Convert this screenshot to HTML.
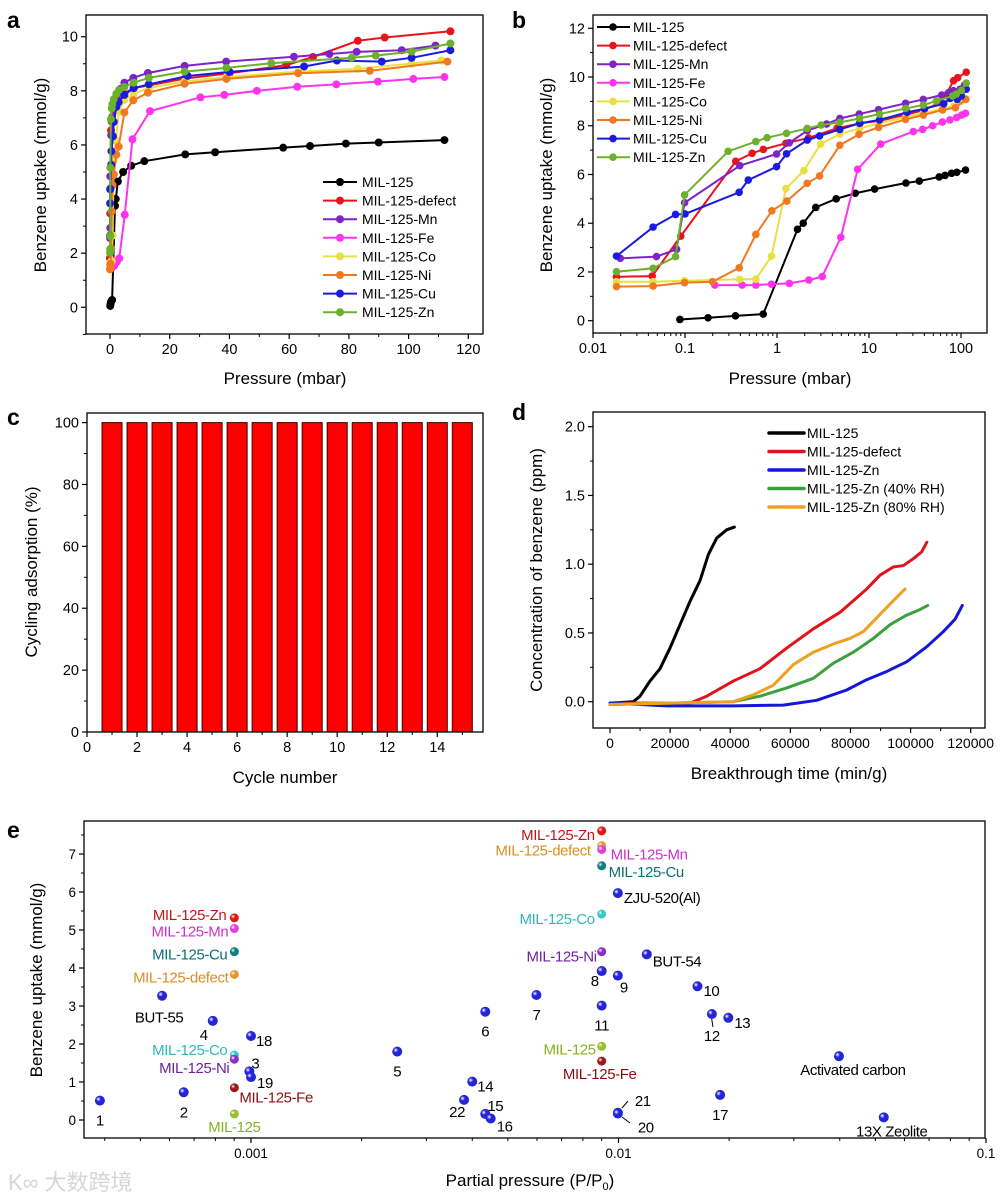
<!DOCTYPE html>
<html><head><meta charset="utf-8"><style>
html,body{margin:0;padding:0;background:#fff;}
svg{display:block;font-family:"Liberation Sans",Arial,sans-serif;}
</style></head><body>
<svg id="fig" width="1001" height="1197" viewBox="0 0 1001 1197" xmlns="http://www.w3.org/2000/svg">
<defs id="defs"></defs>
</svg>
<script>
// ---------- Panel a/b isotherm data (pressure mbar, uptake mmol/g) ----------
const isoNames = ["MIL-125","MIL-125-defect","MIL-125-Mn","MIL-125-Fe","MIL-125-Co","MIL-125-Ni","MIL-125-Cu","MIL-125-Zn"];
const isoColors = ["#000000","#e8141c","#7f22c8","#ff33ee","#e8e040","#f07820","#1a1ae0","#6cb02c"];
const pMil125 = [0.088,0.178,0.354,0.708,1.67,1.93,2.64,4.4,7.1,11.5,25.2,35.2,58,67,79,90,112];
const uMil125 = [0.05,0.12,0.2,0.27,3.75,4.0,4.65,5.0,5.23,5.4,5.65,5.73,5.9,5.96,6.05,6.09,6.18];
const pDefect = [0.018,0.044,0.09,0.356,0.537,0.71,1.25,2.2,4.5,8,13,25,40,59,68,83,92,114];
const uDefect = [1.8,1.83,3.47,6.54,6.87,7.03,7.28,7.5,7.9,8.1,8.2,8.45,8.65,8.95,9.25,9.85,9.97,10.2];
const pMn = [0.0198,0.049,0.081,0.099,0.394,0.99,1.36,2.13,3.46,4.82,7.83,12.7,25,38.9,61.6,73.5,82.6,97.7,109];
const uMn = [2.56,2.63,2.93,4.84,6.36,6.84,7.3,7.8,8.07,8.3,8.48,8.66,8.92,9.08,9.26,9.36,9.44,9.5,9.67];
const pFe = [0.211,0.418,0.589,0.871,1.36,2.22,3.1,4.94,7.52,13.4,30.3,38.3,49.2,62.7,75.8,89.7,101.6,112];
const uFe = [1.46,1.46,1.46,1.5,1.53,1.67,1.81,3.42,6.21,7.25,7.76,7.85,8.0,8.15,8.24,8.34,8.44,8.51];
const pCo = [0.018,0.045,0.099,0.394,0.589,0.871,1.25,1.96,2.98,4.82,7.9,13,25,39,63,83,101,111];
const uCo = [1.6,1.6,1.64,1.7,1.7,2.65,5.42,6.16,7.25,7.66,7.89,8.1,8.35,8.51,8.71,8.81,9.01,9.12];
const pNi = [0.018,0.045,0.099,0.199,0.388,0.589,0.88,1.28,2.13,2.9,4.82,7.78,12.7,25,39,63,87,113];
const uNi = [1.4,1.42,1.56,1.6,2.17,3.54,4.51,4.91,5.64,5.94,7.2,7.65,7.93,8.26,8.44,8.65,8.74,9.08];
const pCu = [0.018,0.045,0.079,0.1,0.388,0.487,0.99,1.27,2.13,2.9,4.82,7.9,13,26,40,65,76,91,101,114];
const uCu = [2.65,3.84,4.36,4.38,5.27,5.77,6.32,6.85,7.41,7.58,7.85,8.1,8.24,8.55,8.7,8.9,9.12,9.08,9.22,9.5];
const pZn = [0.018,0.045,0.079,0.099,0.295,0.589,0.78,1.27,2.13,3.02,4.82,7.9,13,25,39,54,81,89,101,114];
const uZn = [2.01,2.15,2.63,5.16,6.95,7.35,7.51,7.69,7.89,8.03,8.14,8.3,8.48,8.71,8.85,9.02,9.22,9.3,9.45,9.75];
const isoP = [pMil125,pDefect,pMn,pFe,pCo,pNi,pCu,pZn];
const isoU = [uMil125,uDefect,uMn,uFe,uCo,uNi,uCu,uZn];
// ---------- Panel c ----------
const cycles = [1,2,3,4,5,6,7,8,9,10,11,12,13,14,15];
const cycleValues = [100,100,100,100,100,100,100,100,100,100,100,100,100,100,100];
// ---------- Panel d breakthrough ----------
const btNames = ["MIL-125","MIL-125-defect","MIL-125-Zn","MIL-125-Zn (40% RH)","MIL-125-Zn (80% RH)"];
const btColors = ["#000000","#e0141c","#1616d8","#3ca03c","#f0a020"];
const tMil = [0,7763,9980,13300,16640,19960,23290,26620,29940,32720,35490,38820,41370];
const cMil = [-0.01,0,0.04,0.15,0.24,0.39,0.56,0.73,0.88,1.07,1.19,1.25,1.27];
const tDef = [0,26620,32160,41030,49910,58780,67650,76520,85390,89830,94270,97600,100900,103700,105400];
const cDef = [-0.01,-0.01,0.04,0.15,0.24,0.39,0.53,0.65,0.82,0.92,0.98,0.99,1.04,1.09,1.16];
const tZn = [0,18850,41030,57670,68760,78740,85390,92050,98700,105400,110900,114800,117200];
const cZn = [-0.01,-0.03,-0.03,-0.025,0.01,0.085,0.16,0.22,0.29,0.4,0.51,0.6,0.7];
const tZn40 = [0,41030,49910,58780,67650,74300,80960,87610,93150,98700,103100,105700];
const cZn40 = [-0.02,0,0.04,0.1,0.17,0.28,0.36,0.46,0.56,0.63,0.67,0.7];
const tZn80 = [0,41030,47680,54340,60990,67650,74300,79850,84280,88720,93150,98150];
const cZn80 = [-0.02,0,0.05,0.12,0.27,0.36,0.42,0.46,0.51,0.61,0.71,0.82];
const btT = [tMil,tDef,tZn,tZn40,tZn80];
const btC = [cMil,cDef,cZn,cZn40,cZn80];
// ---------- Panel e comparison ----------
const cmpLabels = ["1","2","BUT-55","4","MIL-125-Zn","MIL-125-Mn","MIL-125-Cu","MIL-125-defect","MIL-125-Co","MIL-125-Ni","MIL-125-Fe","MIL-125","18","3","19","5","6","14","22","15","16",
 "MIL-125-Zn","MIL-125-defect","MIL-125-Mn","MIL-125-Cu","ZJU-520(Al)","MIL-125-Co","MIL-125-Ni","BUT-54","8","9","10","7","11","12","13","MIL-125","MIL-125-Fe","Activated carbon","17","21","20","13X Zeolite"];
const cmpPressure = [0.000388,0.000656,0.000573,0.000787,0.000901,0.000901,0.000901,0.000901,0.000901,0.000901,0.000901,0.000901,0.001,0.00099,0.001,0.0025,0.00434,0.0040,0.0038,0.00434,0.00449,
 0.0090,0.0090,0.0090,0.0090,0.00996,0.0090,0.0090,0.01194,0.0090,0.00996,0.0164,0.00598,0.0090,0.01795,0.0199,0.0090,0.0090,0.0398,0.0189,0.00996,0.00996,0.0527];
const cmpUptake = [0.51,0.73,3.27,2.61,5.32,5.04,4.43,3.83,1.71,1.60,0.85,0.16,2.21,1.28,1.13,1.80,2.85,1.01,0.53,0.16,0.04,
 7.61,7.22,7.12,6.69,5.97,5.42,4.43,4.36,3.92,3.80,3.52,3.29,3.01,2.79,2.69,1.94,1.55,1.68,0.66,0.19,0.17,0.07];
const cmpKind = ["n","n","n","n","Zn","Mn","Cu","defect","Co","Ni","Fe","MIL","n","n","n","n","n","n","n","n","n",
 "Zn","defect","Mn","Cu","n","Co","Ni","n","n","n","n","n","n","n","n","MIL","Fe","n","n","n","n","n"];
// label placement (style, not data): dx, dy, anchor
const cmpLab = [[0,20,"middle"],[0,20,"middle"],[-3,22,"middle"],[-9,14,"middle"],[-8,-3,"end"],[-6,3,"end"],[-7,3,"end"],[-6,3,"end"],[-7,-5,"end"],[-5,9,"end"],[5,10,"start"],[0,13,"middle"],[5,5,"start"],[2,-8,"start"],[6,6,"start"],[0,20,"middle"],[0,20,"middle"],[5,5,"start"],[-7,12,"middle"],[10,-8,"middle"],[6,8,"start"],
 [-7,4,"end"],[-11,5,"end"],[9,5,"start"],[7,6,"start"],[6,5,"start"],[-7,5,"end"],[-5,5,"end"],[6,7,"start"],[-7,10,"middle"],[6,12,"middle"],[6,5,"start"],[0,20,"middle"],[0,20,"middle"],[0,22,"middle"],[6,5,"start"],[-6,3,"end"],[-2,13,"middle"],[14,14,"middle"],[0,20,"middle"],[17,-12,"start"],[20,14,"start"],[8,14,"middle"]];
const kindFill = {n:"#2424d8",Zn:"#e01818",Mn:"#e040e0",Cu:"#108080",defect:"#e89a30",Co:"#38c8c8",Ni:"#8a30c8",Fe:"#a01818",MIL:"#94c030"};
const kindText = {n:"#000000",Zn:"#c0161b",Mn:"#d030d0",Cu:"#0c7070",defect:"#d89020",Co:"#30b8b8",Ni:"#7020a0",Fe:"#8a1010",MIL:"#88b020"};

const NS="http://www.w3.org/2000/svg";
const svg=document.getElementById('fig');
const defs=document.getElementById('defs');
function mk(tag,attrs,parent){const el=document.createElementNS(NS,tag);for(const k in attrs)el.setAttribute(k,attrs[k]);(parent||svg).appendChild(el);return el;}
function grp(name){const g=mk('g',{});return g;}
function txt(p,x,y,s,size,anchor,extra){const t=mk('text',Object.assign({x:x,y:y,'font-size':size,'text-anchor':anchor||'middle',fill:'#000'},extra||{}),p);t.textContent=s;return t;}

function frame(g,x0,y0,x1,y1){const r=mk('rect',{x:x0,y:y0,width:x1-x0,height:y1-y0,fill:'none',stroke:'#000','stroke-width':1.3},g);}
function linTicks(g,axis,vals,fn,pos,labels,minor,size){
  for(let i=0;i<vals.length;i++){const v=fn(vals[i]);
    if(axis==='x'){mk('line',{x1:v,x2:v,y1:pos,y2:pos+5,stroke:'#000','stroke-width':1.2},g);
      const t=txt(g,v,pos+20,labels[i],size||14.5);}
    else{mk('line',{x1:pos-5,x2:pos,y1:v,y2:v,stroke:'#000','stroke-width':1.2},g);
      const t=txt(g,pos-8,v+5,labels[i],size||14.5,'end');}
  }
  (minor||[]).forEach(m=>{const v=fn(m);
    if(axis==='x')mk('line',{x1:v,x2:v,y1:pos,y2:pos+3,stroke:'#000','stroke-width':1},g);
    else mk('line',{x1:pos-3,x2:pos,y1:v,y2:v,stroke:'#000','stroke-width':1},g);});
}
function ytitle(g,x,y,s,size){const t=txt(g,x,y,s,size||17,'middle',{transform:`rotate(-90 ${x} ${y})`});}
function xtitle(g,x,y,s,size){const t=txt(g,x,y,s,size||17);}
function letter(g,x,y,s){const t=txt(g,x,y,s,23,'start',{'font-weight':'bold'});}
function clip(id,x0,y0,x1,y1){const c=mk('clipPath',{id:id},defs);mk('rect',{x:x0,y:y0,width:x1-x0,height:y1-y0},c);}

// ================= Panel a =================
const xa=p=>110+p*2.986, ya=u=>307.3-u*27.06;
const ga=grp('panel-a');
letter(ga,7,28,'a');
clip('ca',86,15,483,334);
const ax=[0,20,40,60,80,100,120];
linTicks(ga,'x',ax,xa,334,ax.map(String),[10,30,50,70,90,110]);
const ay=[0,2,4,6,8,10];
linTicks(ga,'y',ay,ya,86,ay.map(String),[-1,1,3,5,7,9]);
ytitle(ga,46,175,'Benzene uptake (mmol/g)');
xtitle(ga,285,384,'Pressure (mbar)');
const gaS=mk('g',{'clip-path':'url(#ca)'},ga);
isoNames.forEach((n,i)=>{
  const s=mk('g',{},gaS);
  
  
  const pts=isoP[i].map((p,j)=>xa(p)+','+ya(isoU[i][j])).join(' ');
  mk('polyline',{points:pts,fill:'none',stroke:isoColors[i],'stroke-width':2},s);
  isoP[i].forEach((p,j)=>{const c=mk('circle',{cx:xa(p),cy:ya(isoU[i][j]),r:4,fill:isoColors[i]},s);
    
    });
});
frame(ga,86,15,483,334);
const la=grp('legend-a');
isoNames.forEach((n,i)=>{const y=182+i*18.6;
  mk('line',{x1:323,x2:357,y1:y,y2:y,stroke:isoColors[i],'stroke-width':2},la);
  mk('circle',{cx:340,cy:y,r:4,fill:isoColors[i]},la);
  const t=txt(la,362,y+5,n,14,'start');
  
  });

// ================= Panel b =================
const xb=p=>593+(Math.log10(p)+2)*92, yb=u=>320.7-u*24.37;
const gb=grp('panel-b');
letter(gb,512,28,'b');
clip('cb',593,15,987,333);
const bx=[0.01,0.1,1,10,100];
const bminor=[];[0.01,0.1,1,10,100].forEach(d=>{for(let k=2;k<=9;k++){if(d*k<180)bminor.push(d*k);}});
linTicks(gb,'x',bx,xb,333,["0.01","0.1","1","10","100"],bminor);
const by=[0,2,4,6,8,10,12];
linTicks(gb,'y',by,yb,593,by.map(String),[1,3,5,7,9,11]);
ytitle(gb,552,175,'Benzene uptake (mmol/g)');
xtitle(gb,790,384,'Pressure (mbar)');
const gbS=mk('g',{'clip-path':'url(#cb)'},gb);
isoNames.forEach((n,i)=>{
  const s=mk('g',{},gbS);
  
  
  const pts=isoP[i].map((p,j)=>xb(p)+','+yb(isoU[i][j])).join(' ');
  mk('polyline',{points:pts,fill:'none',stroke:isoColors[i],'stroke-width':2},s);
  isoP[i].forEach((p,j)=>{const c=mk('circle',{cx:xb(p),cy:yb(isoU[i][j]),r:3.8,fill:isoColors[i]},s);
    
    });
});
frame(gb,593,15,987,333);
const lb=grp('legend-b');
isoNames.forEach((n,i)=>{const y=27+i*18.6;
  mk('line',{x1:597,x2:630,y1:y,y2:y,stroke:isoColors[i],'stroke-width':2},lb);
  mk('circle',{cx:613,cy:y,r:3.8,fill:isoColors[i]},lb);
  const t=txt(lb,633,y+5,n,14,'start');
  
  });

// ================= Panel c =================
const xc=n=>87+n*25.02, yc=v=>732-v*3.094;
const gc=grp('panel-c');
letter(gc,7,425,'c');
const cx=[0,2,4,6,8,10,12,14];
linTicks(gc,'x',cx,xc,732,cx.map(String),[1,3,5,7,9,11,13,15]);
const cy=[0,20,40,60,80,100];
linTicks(gc,'y',cy,yc,87,cy.map(String),[10,30,50,70,90]);
ytitle(gc,37,572,'Cycling adsorption (%)');
xtitle(gc,285,783,'Cycle number');
cycles.forEach((n,i)=>{const w=0.8*25.02;
  const b=mk('rect',{x:xc(n)-w/2,y:yc(cycleValues[i]),width:w,height:yc(0)-yc(cycleValues[i]),fill:'#ff0000',stroke:'#3a0000','stroke-width':1},gc);
  
  });
frame(gc,87,413,483,732);

// ================= Panel d =================
const xd=t=>610+t*0.003006, yd=c=>701.7-c*137.5;
const gd=grp('panel-d');
letter(gd,512,420,'d');
const dx=[0,20000,40000,60000,80000,100000,120000];
linTicks(gd,'x',dx,xd,728,dx.map(String),[10000,30000,50000,70000,90000,110000],14);
const dy=[0,0.5,1,1.5,2];
linTicks(gd,'y',dy,yd,593,["0.0","0.5","1.0","1.5","2.0"],[0.25,0.75,1.25,1.75]);
ytitle(gd,542,570,'Concentration of benzene (ppm)');
xtitle(gd,789,779,'Breakthrough time (min/g)');
btNames.forEach((n,i)=>{
  const pts=btT[i].map((t,j)=>xd(t)+','+yd(btC[i][j])).join(' ');
  const l=mk('polyline',{points:pts,fill:'none',stroke:btColors[i],'stroke-width':3,'stroke-linejoin':'round','stroke-linecap':'round'},gd);
  
  });
frame(gd,593,412,985,728);
const ld=grp('legend-d');
btNames.forEach((n,i)=>{const y=433+i*18.5;
  mk('line',{x1:769,x2:804,y1:y,y2:y,stroke:btColors[i],'stroke-width':3.5,'stroke-linecap':'round'},ld);
  const t=txt(ld,807,y+5,n,14,'start');
  
  });

// ================= Panel e =================
const xe=p=>251+(Math.log10(p)+3)*367.5, ye=u=>1120-u*38;
const ge=grp('panel-e');
letter(ge,7,838,'e');
const eminor=[];[0.0001,0.001,0.01].forEach(d=>{for(let k=2;k<=9;k++){const v=d*k;if(v>0.00035&&v<0.1)eminor.push(v);}});
linTicks(ge,'x',[0.001,0.01,0.1],xe,1138,["0.001","0.01","0.1"],eminor,13.5);
const ey=[0,1,2,3,4,5,6,7];
linTicks(ge,'y',ey,ye,84,ey.map(String),[0.5,1.5,2.5,3.5,4.5,5.5,6.5,7.5],13.5);
ytitle(ge,42,980,'Benzene uptake (mmol/g)');
const xt=txt(ge,530,1186,'Partial pressure (P/P',17);


const sub=mk('tspan',{'font-size':11,dy:4},xt);sub.textContent='0';
const sub2=mk('tspan',{dy:-4},xt);sub2.textContent=')';
frame(ge,84,821,985,1138);
Object.keys(kindFill).forEach(k=>{const g=mk('radialGradient',{id:'g-'+k,cx:'0.35',cy:'0.35',r:'0.7'},defs);
  mk('stop',{offset:'0','stop-color':'#ffffff'},g);mk('stop',{offset:'0.35','stop-color':kindFill[k]},g);mk('stop',{offset:'1','stop-color':kindFill[k]},g);});
[[711.7,1019,713,1027],[622,1117,630,1123],[622,1108,628,1101]].forEach(l=>{const ln=mk('line',{x1:l[0],y1:l[1],x2:l[2],y2:l[3],stroke:'#000','stroke-width':1},ge);
  
  });
cmpLabels.forEach((lab,i)=>{
  const x=xe(cmpPressure[i]), y=ye(cmpUptake[i]), k=cmpKind[i];
  const c=mk('circle',{cx:x,cy:y,r:k==='n'?5:4.5,fill:'url(#g-'+k+')'},ge);
  
  
  const o=cmpLab[i];
  const t=txt(ge,x+o[0],y+o[1]+5,lab,15,o[2],{fill:kindText[k],'letter-spacing':'-0.4'});
  
  
});
const wm=txt(svg,8,1190,'K∞ 大数跨境',22,'start',{fill:'#d6d6d6','font-family':'"Liberation Sans","Noto Sans CJK SC",sans-serif'});


</script>
</body></html>
